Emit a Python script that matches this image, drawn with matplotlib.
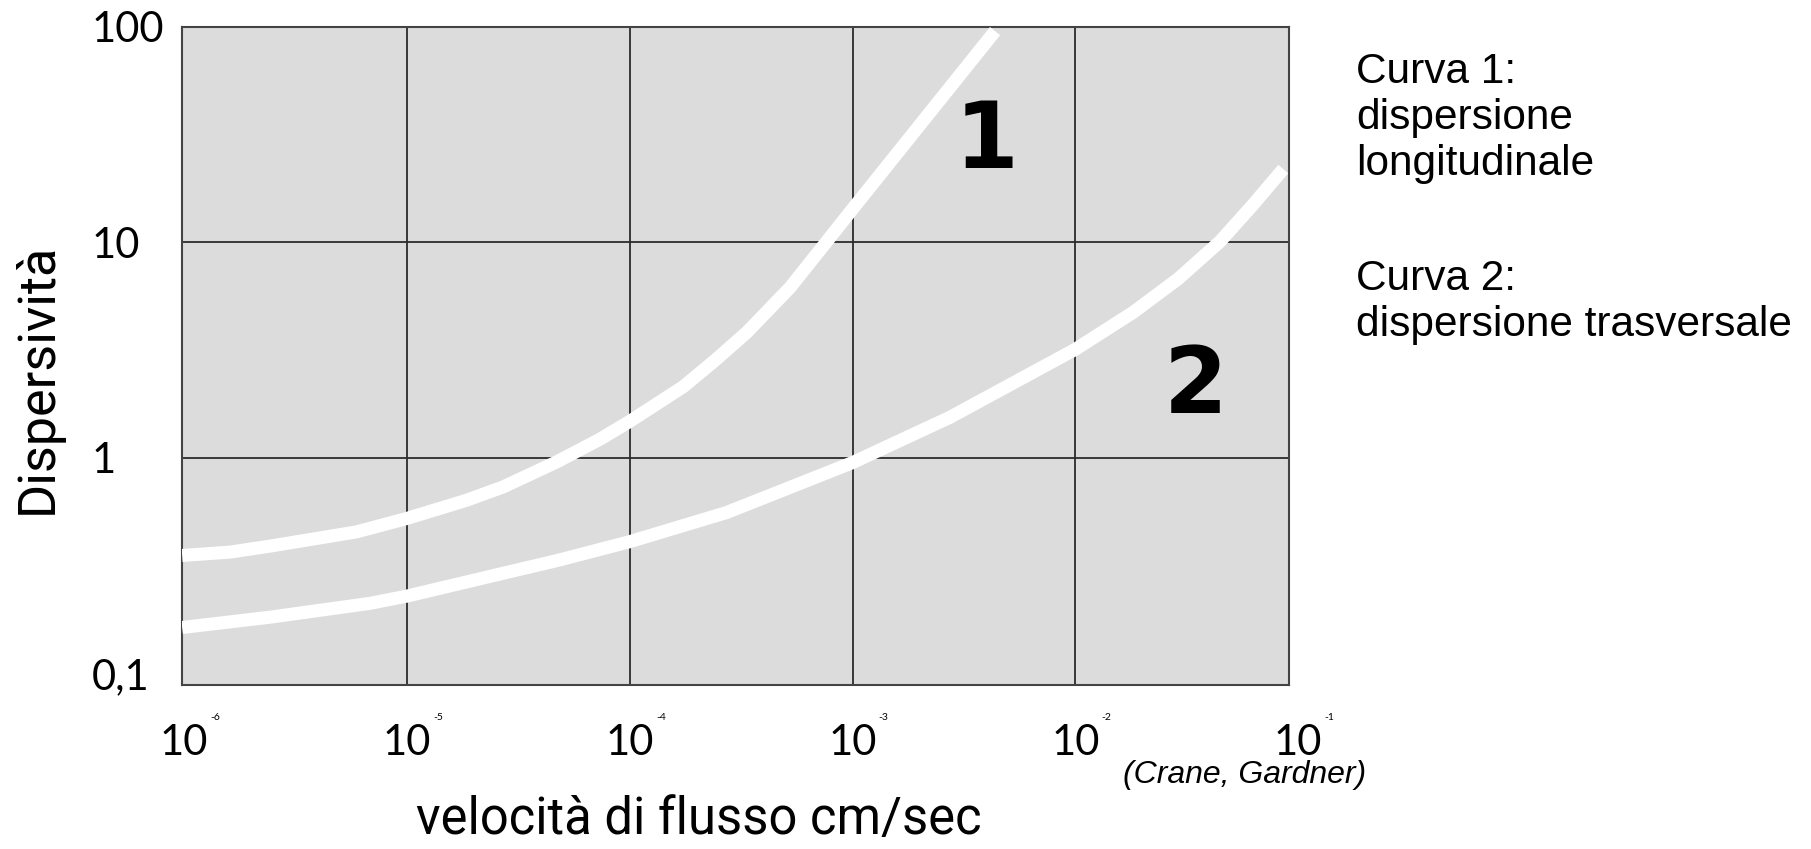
import numpy as np
import matplotlib
matplotlib.use("Agg")
from matplotlib import pyplot as plt
from matplotlib.transforms import blended_transform_factory

# velocità di flusso (cm/sec) e dispersività
vel_long = [9.8e-7, 1.61e-6, 2.43e-6, 5.94e-6, 1.0e-5, 1.85e-5, 2.70e-5,
            4.70e-5, 7.35e-5, 1.0e-4, 1.74e-4, 2.41e-4, 3.35e-4, 5.24e-4,
            7.66e-4, 1.0e-3, 4.36e-3]
disp_long = [0.352, 0.365, 0.389, 0.453, 0.523, 0.635, 0.732,
             0.957, 1.22, 1.476, 2.14, 2.83, 3.82, 6.17,
             10.1, 14.3, 95.7]

vel_trasv = [9.8e-7, 2.43e-6, 6.82e-6, 1.0e-5, 2.70e-5, 4.70e-5, 1.0e-4,
             2.72e-4, 1.0e-3, 2.73e-3, 1.0e-2, 1.82e-2, 2.89e-2, 4.46e-2,
             6.28e-2, 8.57e-2]
disp_trasv = [0.163, 0.182, 0.211, 0.228, 0.291, 0.333, 0.408,
              0.557, 0.95, 1.54, 3.19, 4.74, 6.77, 10.1,
              15.0, 21.9]

x_exponents = [-6, -5, -4, -3, -2, -1]
y_ticks = [0.1, 1, 10, 100]
y_ticklabels = ["0,1", "1", "10", "100"]

fig = plt.figure(figsize=(18.11, 8.49), dpi=100)
ax = fig.add_axes([0.1003, 0.1926, 0.6115, 0.7756])
ax.set_facecolor("#dcdcdc")
ax.set_xscale("log")
ax.set_yscale("log")
ax.set_xlim(10 ** -6.011, 10 ** -1.041)
ax.set_ylim(10 ** -1.057, 10 ** 1.995)

# griglia
for e in x_exponents[1:-1]:
    ax.axvline(10.0 ** e, color="#2b2b2b", lw=1.3, zorder=1)
for v in y_ticks[1:-1]:
    ax.axhline(v, color="#2b2b2b", lw=1.3, zorder=1)
for s in ax.spines.values():
    s.set_color("#444444")
    s.set_linewidth(1.5)

# curve
ax.plot(vel_long, disp_long, color="white", lw=9.4, solid_capstyle="butt",
        solid_joinstyle="round", zorder=3)
ax.plot(vel_trasv, disp_trasv, color="white", lw=9.4, solid_capstyle="butt",
        solid_joinstyle="round", zorder=3)

ax.text(10 ** -2.398, 10 ** 1.468, "1", fontsize=66, fontweight="bold",
        family="DejaVu Sans", ha="center", va="center", zorder=4)
ax.text(10 ** -1.46, 10 ** 0.328, "2", fontsize=66, fontweight="bold",
        family="DejaVu Sans", ha="center", va="center", zorder=4)

# assi: etichette
ax.set_xticks([])
ax.set_xticks([], minor=True)
ax.set_yticks(y_ticks)
ax.set_yticks([], minor=True)
ax.set_yticklabels(y_ticklabels, family="Lato", fontsize=30)
ax.tick_params(axis="y", length=0, pad=65)
for lab in ax.get_yticklabels():
    lab.set_horizontalalignment("left")

trans = blended_transform_factory(ax.transData, ax.transAxes)
for e in x_exponents:
    ax.text(10.0 ** e, -0.088, "10", transform=trans, family="Lato",
            fontsize=30, ha="center", va="center", clip_on=False)
    ax.text(10.0 ** e * 10 ** 0.14, -0.048, "-" + str(-e), transform=trans,
            family="Lato", fontsize=7.5, ha="center", va="center",
            clip_on=False)

fig.text(699 / 1811, 1 - 834 / 849, "velocità di flusso cm/sec",
         family="Roboto", fontsize=36.5, ha="center", va="baseline")
fig.text(38 / 1811, 1 - 378 / 849, "Dispersività", family="Roboto",
         fontsize=37.5, rotation=90, ha="center", va="center")

fig.text(1245 / 1811, 1 - 775 / 849, "(Crane, Gardner)",
         family="Liberation Sans", style="italic", fontsize=23,
         ha="center", va="center")

fig.text(1356 / 1811, 1 - 52 / 849,
         "Curva 1:\ndispersione\nlongitudinale",
         family="Liberation Sans", fontsize=30.5, ha="left", va="top",
         linespacing=1.2)
fig.text(1356 / 1811, 1 - 259 / 849,
         "Curva 2:\ndispersione trasversale",
         family="Liberation Sans", fontsize=30.5, ha="left", va="top",
         linespacing=1.2)

fig.savefig("out.png", dpi=100)
